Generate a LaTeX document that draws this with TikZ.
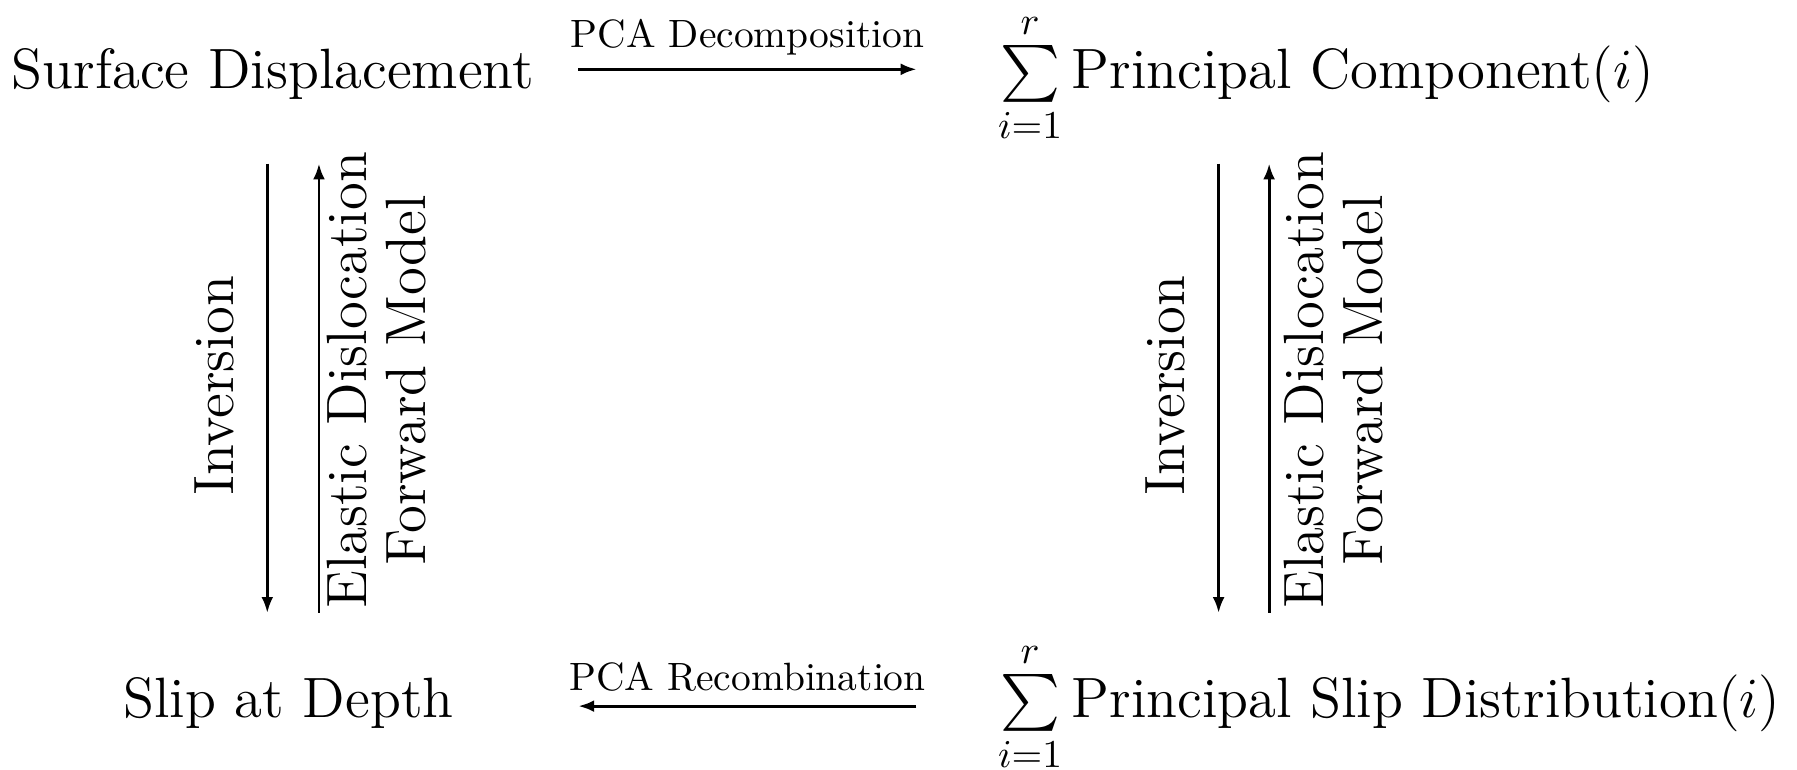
\documentclass[tikz,border=0pt]{standalone}
\usepackage{amsmath}
\usetikzlibrary{arrows.meta}
\tikzset{
  flow/.style={-{Latex[length=4pt,width=3pt]}, line width=0.7pt},
  lbl/.style={above, font=\normalsize}
}
\begin{document}
\begin{tikzpicture}[font=\Large]
  \useasboundingbox (0,0) rectangle (16,6.847);

  % the four corners
  \node[anchor=base] (surf) at (2.43, 6.06) {Surface Displacement};
  \node[anchor=base west, inner sep=0pt] (pc) at (8.88, 6.06) {$\sum\limits_{i=1}^{r}\text{Principal Component}(i)$};
  \node[anchor=base] (slip) at (2.57, 0.46) {Slip at Depth};
  \node[anchor=base west, inner sep=0pt] (psd) at (8.88, 0.46) {$\sum\limits_{i=1}^{r}\text{Principal Slip Distribution}(i)$};

  % arrow ends
  \coordinate (dtop) at (5.15, 6.23);
  \coordinate (ctop) at (8.16, 6.23);
  \coordinate (dbot) at (5.15, 0.56);
  \coordinate (cbot) at (8.16, 0.56);
  \coordinate (la1) at (2.38, 5.39);
  \coordinate (la2) at (2.38, 1.39);
  \coordinate (lb1) at (2.84, 1.39);
  \coordinate (lb2) at (2.84, 5.39);
  \coordinate (ra1) at (10.85, 5.39);
  \coordinate (ra2) at (10.85, 1.39);
  \coordinate (rb1) at (11.30, 1.39);
  \coordinate (rb2) at (11.30, 5.39);

  % horizontal arrows
  \draw[flow] (dtop) -- node[lbl] {PCA Decomposition} (ctop);
  \draw[flow] (cbot) -- node[lbl] {PCA Recombination} (dbot);

  % left column
  \draw[flow] (la1) -- (la2);
  \draw[flow] (lb1) -- (lb2);
  \node[rotate=90] (inv1) at (1.91, 3.41) {Inversion};
  \node[rotate=90, align=center] (fwd1) at (3.35, 3.46) {Elastic Dislocation\\[-3pt]Forward Model};

  % right column
  \draw[flow] (ra1) -- (ra2);
  \draw[flow] (rb1) -- (rb2);
  \node[rotate=90] (inv2) at (10.38, 3.41) {Inversion};
  \node[rotate=90, align=center] (fwd2) at (11.87, 3.46) {Elastic Dislocation\\[-3pt]Forward Model};
\end{tikzpicture}
\end{document}
